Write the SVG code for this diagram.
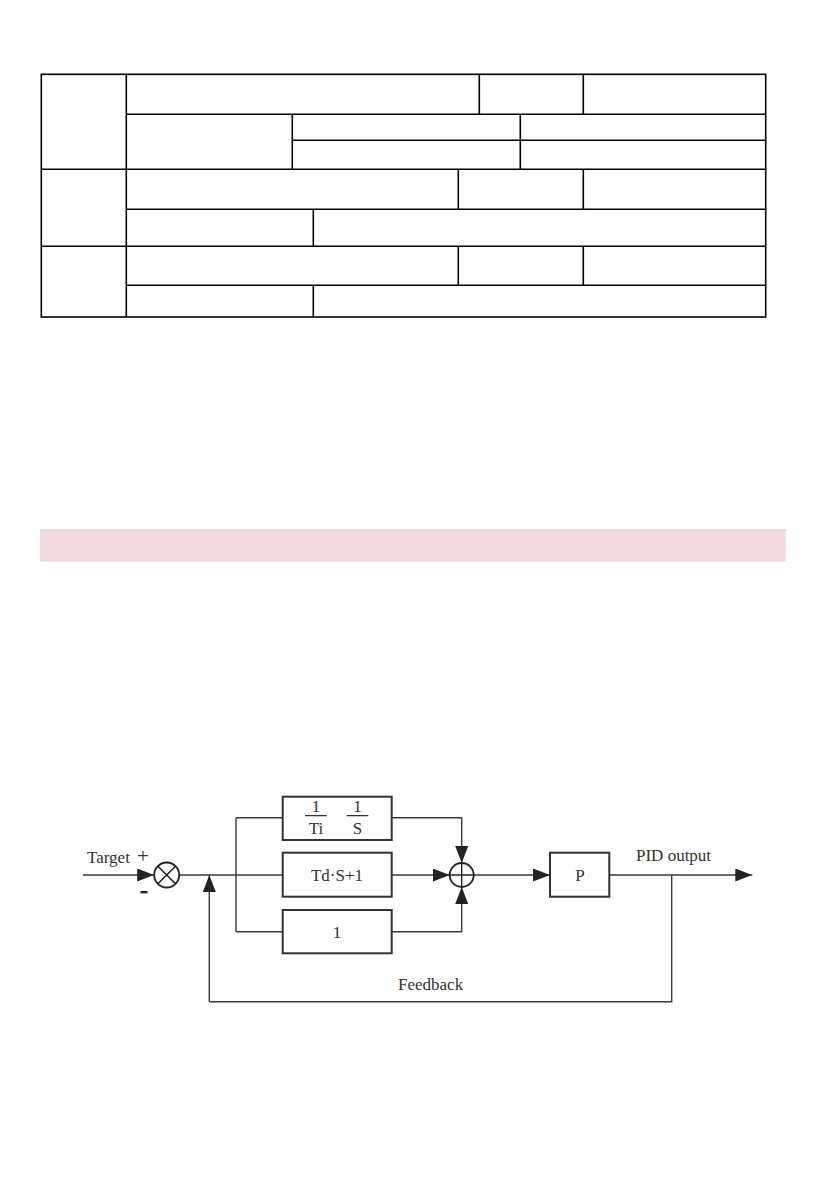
<svg xmlns="http://www.w3.org/2000/svg" width="839" height="1191" viewBox="0 0 839 1191">
<style>
.t{stroke:#000;stroke-width:1.6;fill:none}
.ln{stroke:#3a3a3a;stroke-width:1.4;fill:none}
.bx{stroke:#333;stroke-width:2;fill:#fff}
.tx{font-family:"Liberation Serif",serif;font-size:17px;fill:#333}
.tc{text-anchor:middle}
</style>
<defs>
<marker id="ah" viewBox="0 0 17 13" refX="17" refY="6.5" markerWidth="17" markerHeight="13" markerUnits="userSpaceOnUse" orient="auto">
<path d="M0,0 L17,6.5 L0,13 Z" fill="#222"/>
</marker>
</defs>
<rect width="839" height="1191" fill="#fff"/>
<g id="table">
<rect class="t" x="41.3" y="74.3" width="724.4" height="242.7"/>
<path class="t" d="M126.3,74.3V317 M126.3,114.3H765.7 M292.3,140.3H765.7 M41.3,169.3H765.7 M126.3,209.3H765.7 M41.3,246.3H765.7 M126.3,285.3H765.7 M479.3,74.3V114.3 M583.3,74.3V114.3 M292.3,114.3V169.3 M520.3,114.3V169.3 M458.3,169.3V209.3 M583.3,169.3V209.3 M313.3,209.3V246.3 M458.3,246.3V285.3 M583.3,246.3V285.3 M313.3,285.3V317"/>
</g>
<g id="band">
<rect x="40" y="529" width="745.7" height="32.7" fill="#f0dadd"/>
<rect x="40" y="529" width="745.7" height="1.5" fill="#e6d4d6"/>
</g>
<g id="connectors">
<path class="ln" d="M83,875H154.2" marker-end="url(#ah)"/>
<path class="ln" d="M179.2,875H282.7"/>
<path class="ln" d="M209.3,1001.7V875" marker-end="url(#ah)"/>
<path class="ln" d="M236,817.7V931.7 M236,817.7H282.7 M236,931.7H282.7"/>
<path class="ln" d="M391.7,817.7H461.7V863" marker-end="url(#ah)"/>
<path class="ln" d="M391.7,931.7H461.7V887" marker-end="url(#ah)"/>
<path class="ln" d="M391.7,875H449.7" marker-end="url(#ah)"/>
<path class="ln" d="M473.7,875H550" marker-end="url(#ah)"/>
<path class="ln" d="M609.3,875H752.3" marker-end="url(#ah)"/>
<path class="ln" d="M671.7,875V1001.7H209.3"/>
</g>
<g id="sum1">
<circle cx="166.7" cy="875" r="12.5" fill="#fff" stroke="#222" stroke-width="1.8"/>
<path d="M157.9,866.2L175.5,883.8M175.5,866.2L157.9,883.8" stroke="#222" stroke-width="1.6"/>
</g>
<g id="sum2">
<circle cx="461.7" cy="875" r="12" fill="#fff" stroke="#222" stroke-width="1.8"/>
<path d="M449.7,875H473.7M461.7,863V887" stroke="#222" stroke-width="1.4"/>
</g>
<g id="integral">
<rect class="bx" x="282.7" y="796.7" width="109" height="43.3"/>
<path d="M305,815.7H326.7M346.7,815.7H368.3" stroke="#333" stroke-width="1.2"/>
<text class="tx tc" x="316" y="812">1</text>
<text class="tx tc" x="316" y="834">Ti</text>
<text class="tx tc" x="357.5" y="812">1</text>
<text class="tx tc" x="357.5" y="834">S</text>
</g>
<g id="derivative">
<rect class="bx" x="282.7" y="852.7" width="109" height="44"/>
<text class="tx tc" x="337" y="881">Td·S+1</text>
</g>
<g id="proportional1">
<rect class="bx" x="282.7" y="910" width="109" height="43.3"/>
<text class="tx tc" x="337" y="938">1</text>
</g>
<g id="pblock">
<rect class="bx" x="550" y="852.7" width="59.3" height="44"/>
<text class="tx tc" x="580" y="881">P</text>
</g>
<g id="labels">
<text class="tx" x="87" y="863">Target</text>
<text class="tx" x="137" y="863" style="font-size:21px">+</text>
<rect x="140.5" y="891" width="7" height="2.4" fill="#222"/>
<text class="tx" x="636" y="861">PID output</text>
<text class="tx" x="398" y="990">Feedback</text>
</g>
</svg>
